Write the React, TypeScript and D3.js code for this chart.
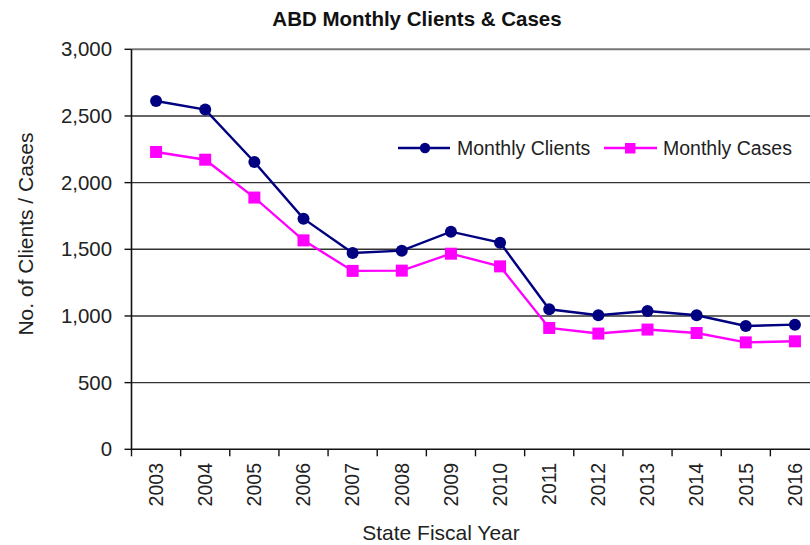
import React from "react";
import * as d3 from "d3";

const years = ["2003","2004","2005","2006","2007","2008","2009","2010","2011","2012","2013","2014","2015","2016"];
const clients = [2612, 2548, 2155, 1730, 1472, 1490, 1632, 1550, 1050, 1005, 1037, 1005, 925, 935];
const cases = [2230, 2172, 1888, 1567, 1338, 1340, 1467, 1372, 910, 868, 898, 872, 802, 810];
const yTicks = [0, 500, 1000, 1500, 2000, 2500, 3000];

const W = 810, H = 545;
const left = 131.5, top = 49.3, plotW = 688, plotH = 400;
const FONT = "'Liberation Sans', Arial, sans-serif";
const NAVY = "#000080";
const MAG = "#FF00FF";

export default function App() {
  const x = d3.scaleBand<string>().domain(years).range([left, left + plotW]);
  const y = d3.scaleLinear().domain([0, 3000]).range([top + plotH, top]);
  const cx = (d: string) => (x(d) as number) + x.bandwidth() / 2;
  const line = d3.line<number>().x((_, i) => cx(years[i])).y((v) => y(v));
  const fmt = d3.format(",");
  const tickEdges = years.map((d) => x(d) as number).concat([left + plotW]);

  return (
    <svg width={W} height={H} style={{ position: "absolute", left: 0, top: 0, background: "#fff" }} fontFamily={FONT}>
      <rect x={0} y={0} width={W} height={H} fill="#fff" />
      <text x={417} y={25.5} textAnchor="middle" fontWeight="bold" fontSize={20.5} fill="#111">ABD Monthly Clients &amp; Cases</text>
      {/* gridlines */}
      {yTicks.filter((t) => t > 0).map((t) => (
        <line key={t} x1={left} x2={left + plotW} y1={y(t)} y2={y(t)} stroke={t === 3000 ? "#777" : "#333"} strokeWidth={t === 3000 ? 2 : 1.4} />
      ))}
      {/* y axis */}
      <line x1={left} x2={left} y1={top} y2={top + plotH} stroke="#111" strokeWidth={1.6} />
      {yTicks.map((t) => (
        <g key={t}>
          <line x1={left - 7} x2={left} y1={y(t)} y2={y(t)} stroke="#111" strokeWidth={1.4} />
          <text x={112} y={y(t)} dy="0.35em" textAnchor="end" fontSize={20.4} fill="#222">{fmt(t)}</text>
        </g>
      ))}
      {/* x axis */}
      <line x1={left} x2={left + plotW} y1={top + plotH} y2={top + plotH} stroke="#111" strokeWidth={1.6} />
      {tickEdges.map((e, i) => (
        <line key={i} x1={e} x2={e} y1={top + plotH} y2={top + plotH + 7} stroke="#111" strokeWidth={1.4} />
      ))}
      {years.map((d) => (
        <text key={d} transform={`translate(${cx(d)},463) rotate(-90)`} dy="0.35em" textAnchor="end" fontSize={19.5} fill="#222">{d}</text>
      ))}
      <text x={441} y={540} textAnchor="middle" fontSize={21} fill="#222">State  Fiscal Year</text>
      <text transform="translate(26,234) rotate(-90)" dy="0.35em" textAnchor="middle" fontSize={21} fill="#222">No. of Clients / Cases</text>
      {/* series */}
      <path d={line(cases) as string} fill="none" stroke={MAG} strokeWidth={2.4} />
      <path d={line(clients) as string} fill="none" stroke={NAVY} strokeWidth={2.4} />
      {cases.map((v, i) => (
        <rect key={i} x={cx(years[i]) - 6} y={y(v) - 6} width={12} height={12} fill={MAG} />
      ))}
      {clients.map((v, i) => (
        <circle key={i} cx={cx(years[i])} cy={y(v)} r={6} fill={NAVY} />
      ))}
      {/* legend */}
      <g>
        <line x1={398} x2={450} y1={148} y2={148} stroke={NAVY} strokeWidth={2.4} />
        <circle cx={425} cy={148} r={5.2} fill={NAVY} />
        <text x={457} y={148} dy="0.35em" fontSize={19.5} fill="#222">Monthly Clients</text>
        <line x1={604} x2={657} y1={148} y2={148} stroke={MAG} strokeWidth={2.4} />
        <rect x={625} y={143} width={10.5} height={10.5} fill={MAG} />
        <text x={663} y={148} dy="0.35em" fontSize={19.5} fill="#222">Monthly Cases</text>
      </g>
    </svg>
  );
}
